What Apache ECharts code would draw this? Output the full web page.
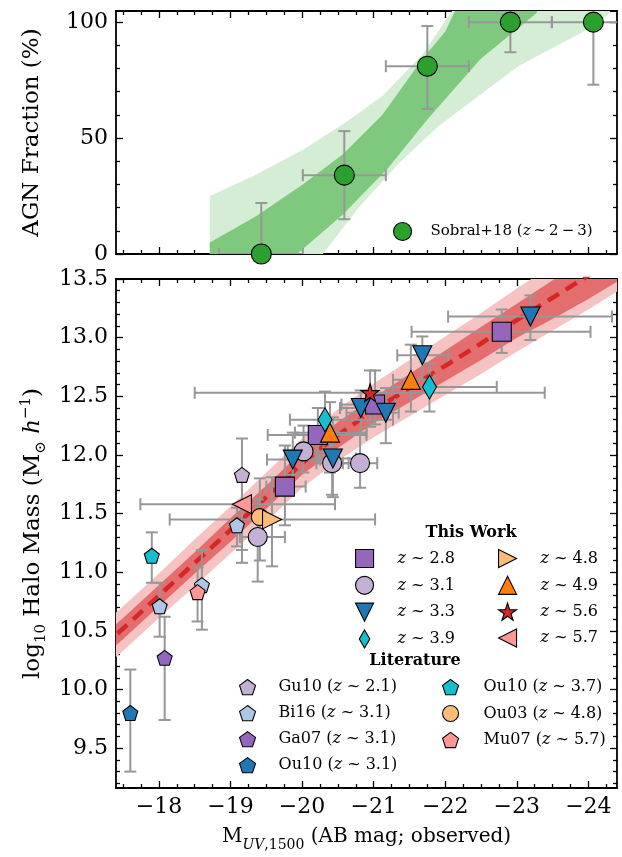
<!DOCTYPE html>
<html><head><meta charset="utf-8">
<script src="https://cdn.jsdelivr.net/npm/echarts@6/dist/echarts.min.js"></script>
<style>html,body{margin:0;padding:0;background:#fff}#c{width:622px;height:857px}</style>
</head><body><div id="c"></div>
<script>
// ================= DATA =================
// Axis ticks
const xMajor = [-24, -23, -22, -21, -20, -19, -18];
const yTopMajor = [0, 50, 100];
const yTopMinor = [10, 20, 30, 40, 60, 70, 80, 90];
const yBotMajor = [9.5, 10.0, 10.5, 11.0, 11.5, 12.0, 12.5, 13.0, 13.5];

// Top panel: Sobral+18 AGN fraction rows: [mag, frac, magFaint, magBright, fracLo, fracHi]
const sobral = [
  [-19.43, 0, -18.84, -20.01, 0, 22],
  [-20.59, 34, -20.01, -21.17, 15, 53],
  [-21.75, 81, -21.17, -22.33, 62.6, 98.3],
  [-22.91, 100, -22.33, -23.49, 87, 100],
  [-24.07, 100, -23.49, -24.65, 73, 100]
];
// AGN fraction bands (mag, %)
const agnLightUpper = [[-18.71,25],[-19.34,34],[-20.01,45],[-20.57,56],[-21.12,68],[-21.68,86],[-22.1,105],[-22.2,112]];
const agnLightLower = [[-18.71,0],[-20.29,0],[-20.79,20],[-21.35,39],[-21.90,55],[-22.46,68],[-23.02,81],[-23.57,90],[-23.88,95],[-24.27,103],[-24.45,112]];
const agnDarkUpper = [[-18.71,5],[-19.34,16],[-20.01,30],[-20.57,43],[-21.12,60],[-21.68,84],[-22.0,96],[-22.25,112]];
const agnDarkLower = [[-18.71,0],[-19.93,0],[-20.57,17],[-21.2,37],[-21.75,58],[-22.49,84],[-23.28,104],[-23.35,112]];

// Bottom panel: halo mass model
const hmMag     = [-17.2, -17.5, -18.0, -18.5, -19.0, -19.5, -20.0, -20.5, -21.0, -21.5, -22.0, -22.5, -23.0, -23.5, -24.0, -24.6];
const hmCenter  = [10.36, 10.52, 10.80, 11.08, 11.36, 11.64, 11.93, 12.17, 12.38, 12.57, 12.76, 12.95, 13.15, 13.34, 13.53, 13.76];
const hmDarkHi  = [10.45, 10.61, 10.89, 11.17, 11.46, 11.74, 12.03, 12.28, 12.49, 12.69, 12.89, 13.09, 13.29, 13.49, 13.69, 13.93];
const hmDarkLo  = [10.27, 10.43, 10.71, 10.99, 11.26, 11.54, 11.83, 12.06, 12.27, 12.45, 12.63, 12.81, 13.00, 13.16, 13.33, 13.55];
const hmLightHi = [10.55, 10.71, 10.99, 11.28, 11.56, 11.85, 12.14, 12.39, 12.61, 12.81, 13.01, 13.21, 13.42, 13.62, 13.82, 14.05];
const hmLightLo = [10.17, 10.33, 10.61, 10.88, 11.16, 11.43, 11.72, 11.95, 12.15, 12.33, 12.51, 12.69, 12.88, 13.06, 13.24, 13.47];

// This work rows: [mag, logM, magFaint, magBright, logMLo, logMHi]
const tw28 = [[-22.79,13.05,-21.53,-24.03,12.87,13.24],[-21.02,12.43,-20.55,-21.30,12.26,12.72],[-20.22,12.17,-19.52,-20.90,11.95,12.40],[-19.76,11.73,-19.50,-20.05,11.40,12.08]];
const tw31 = [[-20.02,12.03,-19.80,-20.30,11.85,12.25],[-20.42,11.93,-20.20,-20.65,11.66,12.20],[-20.81,11.93,-20.57,-21.05,11.72,12.17],[-19.38,11.30,-19.13,-19.76,10.92,11.62]];
const tw33 = [[-23.19,13.18,-22.04,-24.33,12.98,13.36],[-21.68,12.85,-21.33,-22.04,12.64,13.01],[-20.82,12.40,-20.53,-21.10,12.19,12.55],[-21.17,12.36,-20.62,-21.35,12.10,12.57],[-19.87,11.96,-19.51,-20.25,11.83,12.19],[-20.43,11.97,-20.20,-20.75,11.64,12.32]];
const tw39 = [[-21.78,12.58,-21.27,-22.72,12.37,12.78],[-20.32,12.30,-19.83,-21.27,12.10,12.54]];
const tw48 = [[-19.58,11.45,-18.15,-21.02,11.05,11.81]];
const tw49 = [[-21.52,12.64,-21.27,-21.85,12.37,12.94],[-20.39,12.19,-19.90,-20.90,11.85,12.45]];
const tw56 = [[-20.95,12.53,-18.50,-23.39,12.24,12.72]];
const tw57 = [[-19.16,11.58,-17.74,-20.46,11.19,11.81]];

// Literature rows
const gu10  = [[-19.16,11.83,null,null,11.08,12.14]];
const bi16  = [[-19.09,11.40,null,null,11.22,11.55],[-18.60,10.89,null,null,10.51,11.19],[-18.01,10.71,null,null,10.45,10.91]];
const ga07  = [[-18.08,10.27,null,null,9.74,10.62]];
const ou10a = [[-17.60,9.80,null,null,9.30,10.17]];
const ou10b = [[-17.90,11.14,null,null,10.91,11.34]];
const ou03  = [[-19.41,11.47,null,null,11.10,11.80]];
const mu07  = [[-18.54,10.83,null,null,10.58,11.04]];

// ================= STYLE =================
const FONT = 'DejaVu Serif';
const ERR = '#979797';
const CAP = 6;
const DIAMOND = 'path://M7,0L14,12L7,24L0,12Z';
const TRI_DOWN = 'path://M0,0L20,0L10,20Z';
const TRI_UP = 'path://M10,0L20,20L0,20Z';
const TRI_RIGHT = 'path://M0,0L20,10L0,20Z';
const TRI_LEFT = 'path://M20,0L0,10L20,20Z';
const PENTAGON = 'path://M50,0L97.55,34.55L79.39,90.45L20.61,90.45L2.45,34.55Z';
const STAR = 'path://M50,0L61.23,34.55L97.55,34.55L68.16,55.9L79.39,90.45L50,69.1L20.61,90.45L31.84,55.9L2.45,34.55L38.77,34.55Z';

const X_MIN = -24.4, X_MAX = -17.4;
const xMinor = [];
for (let k = -97; k <= -70; k++) { if (k % 4 !== 0) xMinor.push(k / 4); }
const yBotMinor = [];
for (let k = 92; k <= 134; k++) { if (k % 5 !== 0) yBotMinor.push(k / 10); }

const minus = v => (v < 0 ? '\u2212' : '') + Math.abs(v);

function ax(pos, grid, min, max, inverse, ticks, len, showLine, labels, fmt) {
  return {
    type: 'value', gridIndex: grid, position: pos, min, max, inverse, silent: true,
    axisLine: {show: showLine, onZero: false, lineStyle: {color: '#000', width: 1.8}},
    axisTick: {show: true, inside: true, length: len, customValues: ticks, lineStyle: {color: '#000', width: 1.3}},
    axisLabel: labels ? {show: true, customValues: labels, formatter: fmt, fontFamily: FONT, fontSize: 22, color: '#000', margin: 8} : {show: false},
    splitLine: {show: false}, minorTick: {show: false}, minorSplitLine: {show: false}
  };
}

const xAxes = [];
const yAxes = [];
[0, 1].forEach(g => {
  const lab = g === 1 ? xMajor : null;
  xAxes.push(ax('bottom', g, X_MIN, X_MAX, true, xMajor, 7, true, lab, minus));
  xAxes.push(ax('bottom', g, X_MIN, X_MAX, true, xMinor, 4, false, null));
  xAxes.push(ax('top', g, X_MIN, X_MAX, true, xMajor, 7, true, null));
  xAxes.push(ax('top', g, X_MIN, X_MAX, true, xMinor, 4, false, null));
});
// top panel y
yAxes.push(ax('left', 0, 0, 104.8, false, yTopMajor, 7, true, yTopMajor, v => String(v)));
yAxes.push(ax('left', 0, 0, 104.8, false, yTopMinor, 4, false, null));
yAxes.push(ax('right', 0, 0, 104.8, false, yTopMajor, 7, true, null));
yAxes.push(ax('right', 0, 0, 104.8, false, yTopMinor, 4, false, null));
// bottom panel y
yAxes.push(ax('left', 1, 9.16, 13.5, false, yBotMajor, 7, true, yBotMajor, v => v.toFixed(1)));
yAxes.push(ax('left', 1, 9.16, 13.5, false, yBotMinor, 4, false, null));
yAxes.push(ax('right', 1, 9.16, 13.5, false, yBotMajor, 7, true, null));
yAxes.push(ax('right', 1, 9.16, 13.5, false, yBotMinor, 4, false, null));

// axis names
Object.assign(yAxes[0], {
  name: 'AGN Fraction (%)', nameLocation: 'middle', nameGap: 72,
  nameTextStyle: {fontFamily: FONT, fontSize: 23, color: '#000'}
});
const baseRich = {
  b: {fontFamily: FONT, fontSize: 23, color: '#000', lineHeight: 30},
  i: {fontFamily: FONT, fontSize: 23, fontStyle: 'italic', color: '#000', lineHeight: 30},
  s: {fontFamily: FONT, fontSize: 15, color: '#000', lineHeight: 16, verticalAlign: 'bottom'},
  si: {fontFamily: FONT, fontSize: 15, fontStyle: 'italic', color: '#000', lineHeight: 16, verticalAlign: 'bottom'},
  p: {fontFamily: FONT, fontSize: 15, color: '#000', lineHeight: 16, verticalAlign: 'top'}
};
Object.assign(yAxes[4], {
  name: '{b|log}{s|10}{b| Halo Mass (M}{s|\u2299}{b| }{i|h}{p|\u22121}{b|)}',
  nameLocation: 'middle', nameGap: 66,
  nameTextStyle: {fontFamily: FONT, fontSize: 23, color: '#000', rich: baseRich}
});
const xRich = JSON.parse(JSON.stringify(baseRich));
xRich.b.fontSize = 20; xRich.i.fontSize = 20; xRich.s.fontSize = 14; xRich.si.fontSize = 14;
Object.assign(xAxes[4], {
  name: '{b|M}{si|UV}{s|,1500}{b| (AB mag; observed)}',
  nameLocation: 'middle', nameGap: 34,
  nameTextStyle: {fontFamily: FONT, fontSize: 20, color: '#000', rich: xRich}
});

// ================= SERIES =================
function band(upper, lower, color, xi, yi, z) {
  const pts = upper.concat(lower.slice().reverse());
  return {
    type: 'custom', xAxisIndex: xi, yAxisIndex: yi, clip: true, z, silent: true,
    data: pts, encode: {x: 0, y: 1},
    renderItem: (params, api) => {
      if (params.dataIndex !== 0) return null;
      return {type: 'polygon', shape: {points: pts.map(p => api.coord(p))}, style: {fill: color}};
    }
  };
}
function errs(groups, xi, yi) {
  const rows = [].concat(...groups);
  return {
    type: 'custom', xAxisIndex: xi, yAxisIndex: yi, clip: true, z: 3, silent: true,
    data: rows.map(r => [r[0], r[1]]), encode: {x: 0, y: 1},
    renderItem: (params, api) => {
      const r = rows[params.dataIndex];
      const st = {stroke: ERR, lineWidth: 2};
      const ch = [];
      const seg = (a, b) => ch.push({type: 'line', shape: {x1: a[0], y1: a[1], x2: b[0], y2: b[1]}, style: st});
      if (r[2] != null) {
        const a = api.coord([r[2], r[1]]), b = api.coord([r[3], r[1]]);
        seg(a, b);
        seg([a[0], a[1] - CAP], [a[0], a[1] + CAP]);
        seg([b[0], b[1] - CAP], [b[0], b[1] + CAP]);
      }
      if (r[4] != null) {
        const a = api.coord([r[0], r[4]]), b = api.coord([r[0], r[5]]);
        seg(a, b);
        seg([a[0] - CAP, a[1]], [a[0] + CAP, a[1]]);
        seg([b[0] - CAP, b[1]], [b[0] + CAP, b[1]]);
      }
      return {type: 'group', children: ch};
    }
  };
}
function sc(name, rows, symbol, size, color, xi, yi, z) {
  return {
    type: 'scatter', name, xAxisIndex: xi, yAxisIndex: yi, silent: true, z: z || 5,
    data: rows.map(r => [r[0], r[1]]), symbol, symbolSize: size,
    itemStyle: {color, borderColor: '#000', borderWidth: 1.1, opacity: 1},
    emphasis: {disabled: true}
  };
}

const SOB = 'Sobral+18 (z\u2009~\u20092\u2009\u2212\u20093)';
const series = [
  band(agnLightUpper, agnLightLower, '#d5edd5', 0, 0, 1),
  band(agnDarkUpper, agnDarkLower, '#7fc97f', 0, 0, 1),
  errs([sobral], 0, 0),
  sc(SOB, sobral, 'circle', 20, '#2ca02c', 0, 0),

  band(hmMag.map((m, i) => [m, hmLightHi[i]]), hmMag.map((m, i) => [m, hmLightLo[i]]), '#f6c3c3', 4, 4, 1),
  band(hmMag.map((m, i) => [m, hmDarkHi[i]]), hmMag.map((m, i) => [m, hmDarkLo[i]]), '#e46d6d', 4, 4, 1),
  {type: 'line', xAxisIndex: 4, yAxisIndex: 4, data: hmMag.map((m, i) => [m, hmCenter[i]]), symbol: 'none', silent: true, z: 2,
   lineStyle: {color: '#d62728', width: 4.5, type: [13, 8]}, clip: true},
  errs([gu10, bi16, ga07, ou10a, ou10b, ou03, mu07, tw28, tw31, tw33, tw39, tw48, tw49, tw56, tw57], 4, 4),
  sc('Gu10 (z ~ 2.1)', gu10, PENTAGON, 15, '#c5b0d5', 4, 4, 4),
  sc('Bi16 (z ~ 3.1)', bi16, PENTAGON, 15, '#aec7e8', 4, 4, 4),
  sc('Ga07 (z ~ 3.1)', ga07, PENTAGON, 15, '#9467bd', 4, 4, 4),
  sc('Ou10 (z ~ 3.1)', ou10a, PENTAGON, 15, '#1f77b4', 4, 4, 4),
  sc('Ou10 (z ~ 3.7)', ou10b, PENTAGON, 15, '#17becf', 4, 4, 4),
  sc('Ou03 (z ~ 4.8)', ou03, 'circle', 17, '#ffbb78', 4, 4, 4),
  sc('Mu07 (z ~ 5.7)', mu07, PENTAGON, 15, '#ff9896', 4, 4, 4),
  sc('z ~ 2.8', tw28, 'rect', 19, '#9467bd', 4, 4),
  sc('z ~ 3.1', tw31, 'circle', 19, '#c5b0d5', 4, 4),
  sc('z ~ 3.3', tw33, TRI_DOWN, 19, '#1f77b4', 4, 4),
  sc('z ~ 3.9', tw39, DIAMOND, [14, 24], '#17becf', 4, 4),
  sc('z ~ 4.8', tw48, TRI_RIGHT, 19, '#ffbb78', 4, 4),
  sc('z ~ 4.9', tw49, TRI_UP, 19, '#ff7f0e', 4, 4),
  sc('z ~ 5.6', tw56, STAR, 18, '#d62728', 4, 4),
  sc('z ~ 5.7', tw57, TRI_LEFT, 19, '#ff9896', 4, 4)
];

// ================= LEGENDS =================
function lg(data, left, top, size, gap, padLeft, fs) {
  fs = fs || 16;
  return {
    data, left, top, orient: 'vertical', padding: 0, itemGap: gap,
    itemWidth: size, itemHeight: size, selectedMode: false,
    itemStyle: {borderWidth: 1.1, borderColor: '#000'},
    formatter: n => n.replace('z', '{i|z}'),
    textStyle: {fontFamily: FONT, fontSize: fs, color: '#000', lineHeight: size, padding: [0, 0, 0, padLeft],
      rich: {i: {fontFamily: FONT, fontSize: fs, fontStyle: 'italic', color: '#000', lineHeight: size}}}
  };
}
const legends = [
  lg([SOB], 393, 222, 18, 8, 14, 15),
  lg(['z ~ 2.8', 'z ~ 3.1', 'z ~ 3.3', {name: 'z ~ 3.9', icon: DIAMOND}], 355, 549, 18, 7.7, 19),
  lg(['z ~ 4.8', 'z ~ 4.9', 'z ~ 5.6', 'z ~ 5.7'], 498, 549, 18, 7.7, 19),
  lg(['Gu10 (z ~ 2.1)', 'Bi16 (z ~ 3.1)', 'Ga07 (z ~ 3.1)', 'Ou10 (z ~ 3.1)'], 239, 679, 16, 9.7, 18),
  lg(['Ou10 (z ~ 3.7)', 'Ou03 (z ~ 4.8)', 'Mu07 (z ~ 5.7)'], 442, 679, 16, 9.7, 20)
];

const chart = echarts.init(document.getElementById('c'), null, {renderer: 'canvas'});
chart.setOption({
  animation: false,
  backgroundColor: '#fff',
  grid: [
    {left: 116, top: 11, width: 501, height: 243, containLabel: false},
    {left: 116, top: 279, width: 501, height: 510, containLabel: false}
  ],
  xAxis: xAxes,
  yAxis: yAxes,
  legend: legends,
  graphic: [
    {type: 'text', x: 471, y: 533, z: 10, style: {text: 'This Work', font: 'bold 16px "DejaVu Serif"', fill: '#000', align: 'center', verticalAlign: 'middle'}},
    {type: 'text', x: 415, y: 661, z: 10, style: {text: 'Literature', font: 'bold 16px "DejaVu Serif"', fill: '#000', align: 'center', verticalAlign: 'middle'}}
  ],
  series
});
</script>
</body></html>
